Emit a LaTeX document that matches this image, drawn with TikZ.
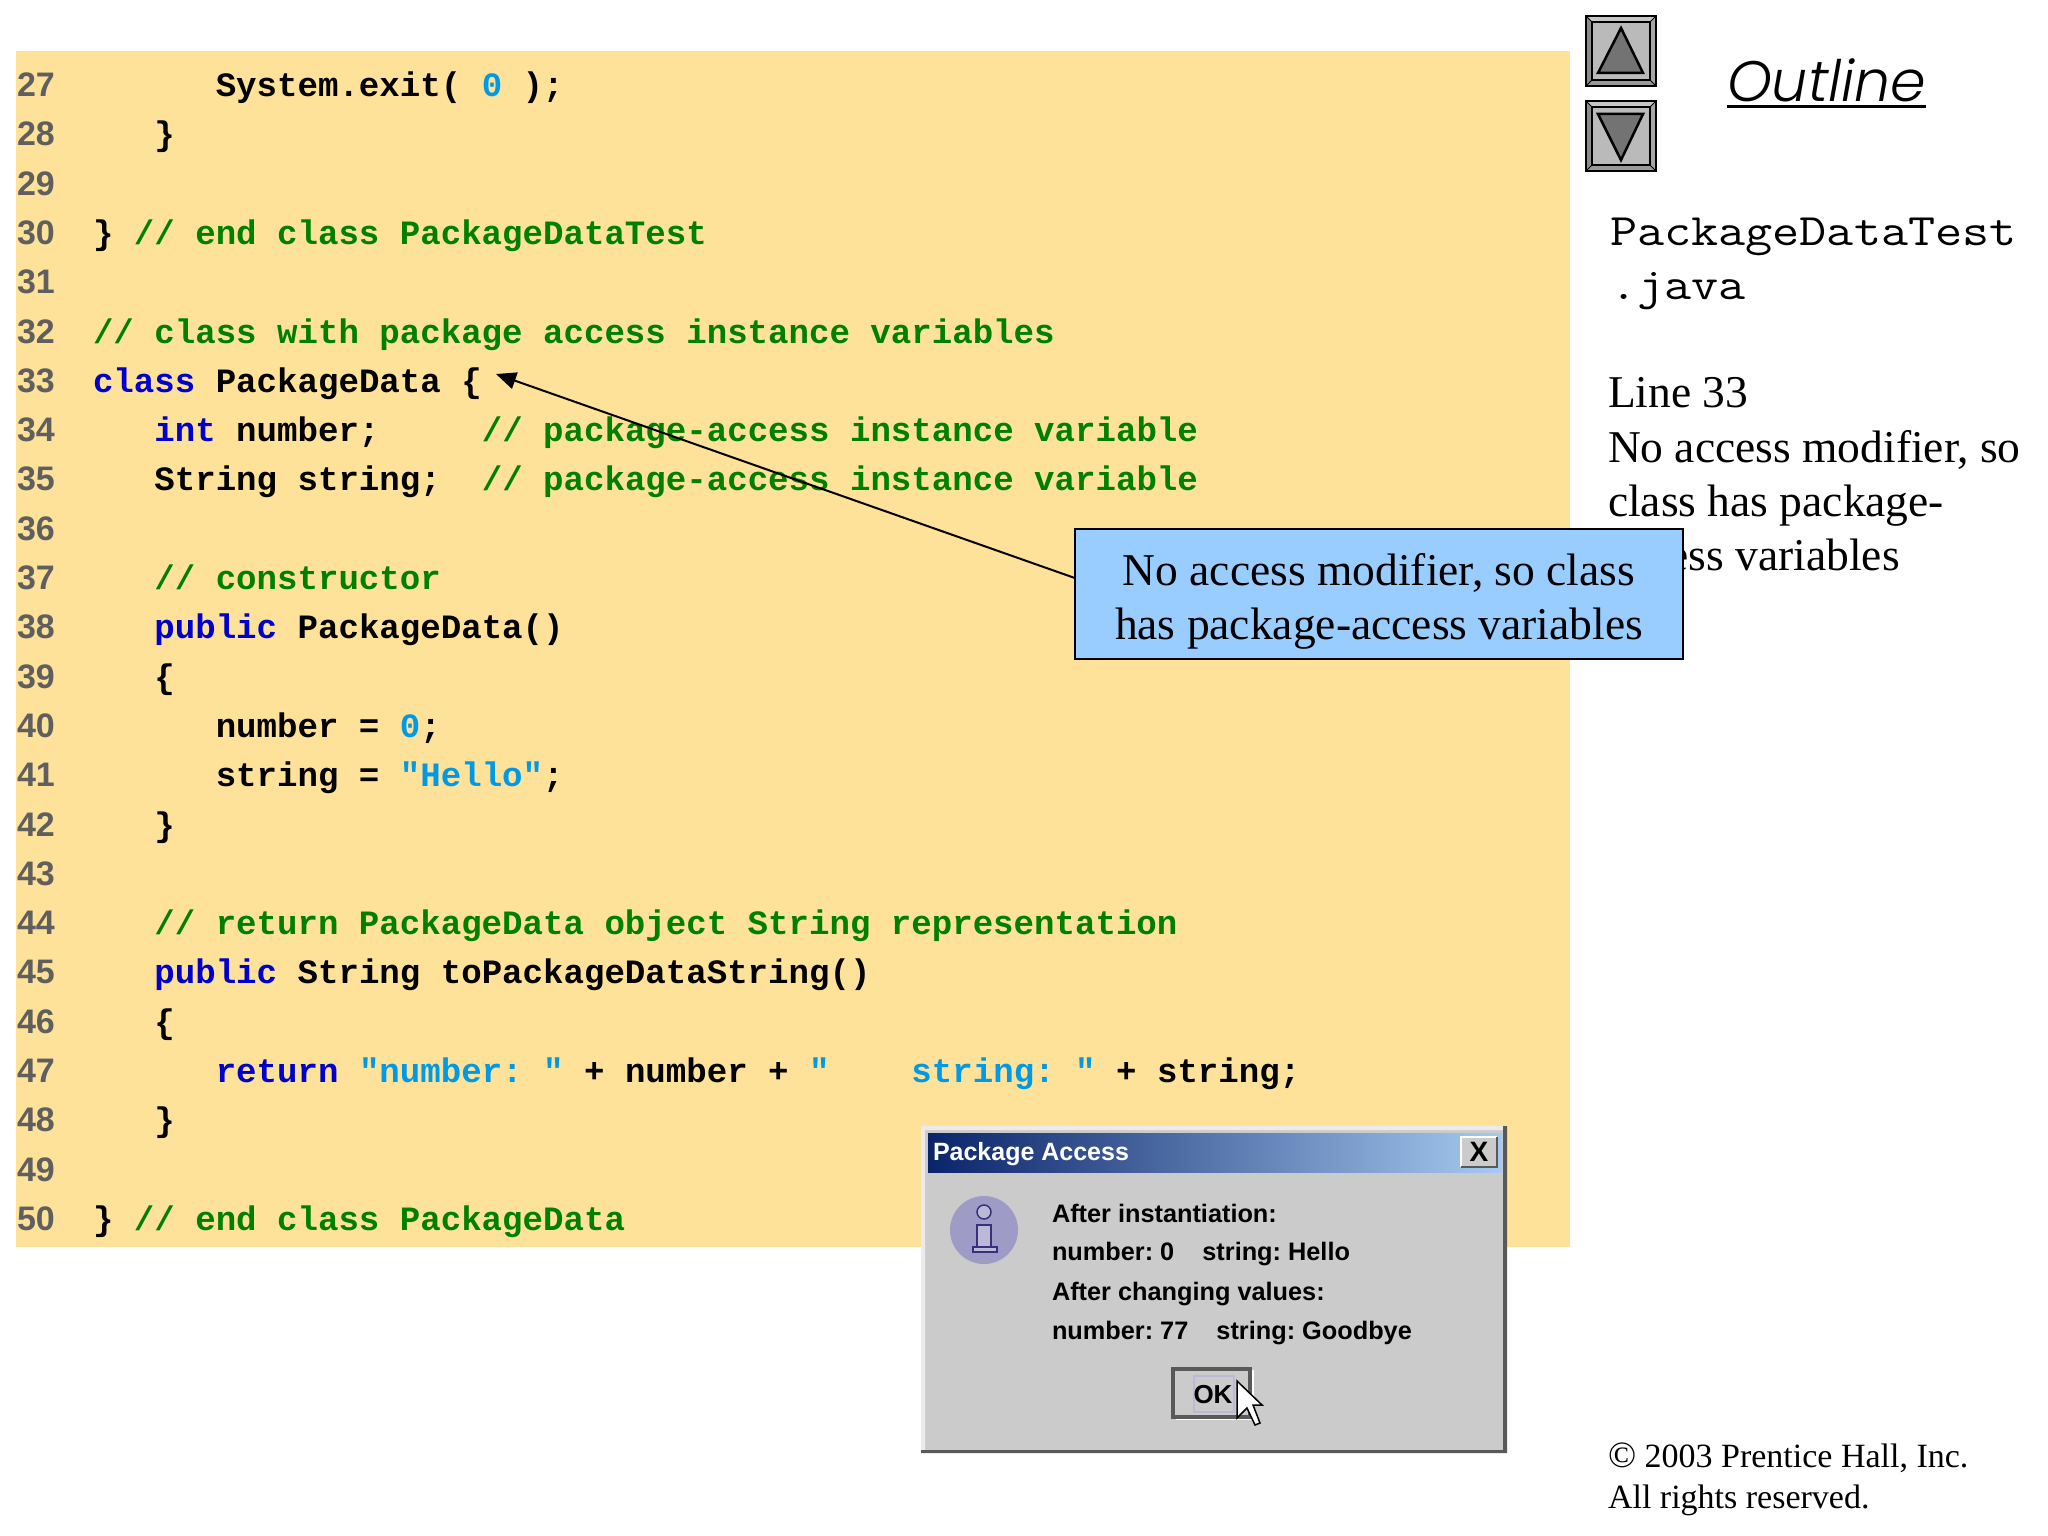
\documentclass[tikz,border=0pt]{standalone}
\usepackage{fontspec}
\usepackage{xcolor}
\usetikzlibrary{arrows.meta}
\setmainfont{Liberation Serif}
\newfontfamily\codefont{Liberation Mono}
\newfontfamily\filefont{Latin Modern Mono}[FakeStretch=1.17]
\newfontfamily\numfont{Liberation Sans}
\newfontfamily\outlinefont{Poppins}[UprightFont=* Light,ItalicFont=* Light Italic]
\definecolor{codeback}{HTML}{FFE299}
\definecolor{codeblue}{HTML}{0000CC}
\definecolor{codegreen}{HTML}{008000}
\definecolor{codelit}{HTML}{0099E6}
\definecolor{numgray}{HTML}{5F5F5F}
\definecolor{callblue}{HTML}{99CCFF}
\definecolor{dlggray}{HTML}{CBCBCB}
\definecolor{titledark}{HTML}{0A246A}
\definecolor{titlelight}{HTML}{A6CAF0}
\definecolor{iconfill}{HTML}{9E9BC6}
\definecolor{iconline}{HTML}{3A2F7A}
\newcommand{\kw}[1]{\textcolor{codeblue}{#1}}
\newcommand{\cmt}[1]{\textcolor{codegreen}{#1}}
\newcommand{\lit}[1]{\textcolor{codelit}{#1}}
\newcommand{\navbox}[2]{%
\fill[gray!60] (#1,#2) rectangle ++(70,70);
\fill[gray!45] (#1,#2) -- ++(70,0) -- ++(-6,6) -- ++(-58,0) -- cycle;
\fill[gray!90] (#1,#2) -- ++(0,70) -- ++(6,-6) -- ++(0,-58) -- cycle;
\fill[gray!80] (#1+70,#2+70) -- ++(-70,0) -- ++(6,-6) -- ++(58,0) -- cycle;
\fill[gray!70] (#1+70,#2+70) -- ++(0,-70) -- ++(-6,6) -- ++(0,58) -- cycle;
\fill[black!27] (#1+6,#2+6) rectangle ++(58,58);
\draw[line width=2.5pt] (#1,#2) rectangle ++(70,70);
\draw[line width=2.5pt] (#1+6,#2+6) rectangle ++(58,58);
\draw[line width=1pt] (#1,#2) -- ++(6,6) (#1+70,#2) -- ++(-6,6) (#1,#2+70) -- ++(6,-6) (#1+70,#2+70) -- ++(-6,-6);}

\begin{document}
\frenchspacing
\begin{tikzpicture}[x=1pt,y=-1pt]
\tikzstyle{every node}=[inner sep=0pt,outer sep=0pt];
\tikzstyle{lineno}=[anchor=base west,text=numgray,font={\numfont\bfseries\fontsize{34}{40}\selectfont}];
\tikzstyle{code}=[anchor=base west,font={\codefont\bfseries\fontsize{34.1}{40}\selectfont}];
\tikzstyle{filename}=[anchor=base west,font={\filefont\fontsize{45}{54}\selectfont}];
\tikzstyle{sidetext}=[anchor=base west,font={\fontsize{45.5}{55}\selectfont}];
\tikzstyle{smalltext}=[anchor=base west,font={\fontsize{34}{41}\selectfont}];
\tikzstyle{dlgtext}=[anchor=base west,font={\numfont\bfseries\fontsize{25.3}{30}\selectfont}];
\useasboundingbox (0,0) rectangle (2048,1536);
\fill[white] (0,0) rectangle (2048,1536);
\fill[codeback] (16,51) rectangle (1570,1247);
\foreach \n in {27,...,50}
  \path (17,{96.5+49.3*(\n-27)}) node[lineno] (num\n) {\n};
\foreach \n/\c/\txt in {
  27/6/{System.exit( \lit{0} );},
  28/3/{\}},
  30/0/{\} \cmt{// end class PackageDataTest}},
  32/0/{\cmt{// class with package access instance variables}},
  33/0/{\kw{class} PackageData \{},
  34/3/{\kw{int} number;~~~~~\cmt{// package-access instance variable}},
  35/3/{String string;~~\cmt{// package-access instance variable}},
  37/3/{\cmt{// constructor}},
  38/3/{\kw{public} PackageData()},
  39/3/{\{},
  40/6/{number = \lit{0};},
  41/6/{string = \lit{"Hello"};},
  42/3/{\}},
  44/3/{\cmt{// return PackageData object String representation}},
  45/3/{\kw{public} String toPackageDataString()},
  46/3/{\{},
  47/6/{\kw{return} \lit{"number: "} + number + \lit{"~~~~string: "} + string;},
  48/3/{\}},
  50/0/{\} \cmt{// end class PackageData}}}
  \path ({93+\c*20.46},{96.5+49.3*(\n-27)}) node[code] (code\n) {\txt};
\navbox{1586}{16}
\navbox{1586}{101}
\draw[line width=2.5pt,fill=black!55] (1621,28) -- (1643,73) -- (1598,73) -- cycle;
\draw[line width=2.5pt,fill=black!55] (1621,160) -- (1643,114) -- (1598,114) -- cycle;
\path (1727,102) node[anchor=base west,font={\outlinefont\itshape\fontsize{57}{60}\selectfont}] (outline) {Outline};
\draw[line width=3pt] ([yshift=-5pt]outline.base west) -- ([yshift=-5pt]outline.base east);
\path (1610,245) node[filename] (file1) {PackageDataTest};
\path (1610,299) node[filename] (file2) {.java};
\path (1608,407) node[sidetext] (side1) {Line 33};
\path (1608,462) node[sidetext] (side2) {No access modifier, so};
\path (1608,516) node[sidetext] (side3) {class has package-};
\path (1608,570) node[sidetext] (side4) {access variables};
\path (1608,1467) node[smalltext] (copy1) {{\fontsize{37}{41}\selectfont ©} 2003 Prentice Hall, Inc.};
\path (1608,1508) node[smalltext] (copy2) {All rights reserved.};
\path (1379,594) node[draw,line width=2pt,fill=callblue,minimum width=608pt,minimum height=130pt,align=center,font={\fontsize{45.5}{54}\selectfont}] (callout) {\rule{0pt}{47pt}No access modifier, so class\\has package-access variables};
\coordinate (brace) at (496,374);
\draw[line width=2pt,-{Triangle[length=20pt,width=17pt]}] (callout.177.4) -- (brace);
\fill[dlggray] (921,1126) rectangle (1507,1453);
\fill[black!8] (921,1126) rectangle (1507,1130) (921,1126) rectangle (925,1453);
\fill[black!65] (921,1450) rectangle (1507,1453) (1503,1126) rectangle (1507,1453);
\shade[left color=titledark,right color=titlelight] (928,1133) rectangle (1502,1172);
\path (933,1160) node[anchor=base west,text=white,font={\numfont\bfseries\fontsize{25}{30}\selectfont}] (title) {Package Access};
\fill[dlggray] (1461,1137) rectangle (1497,1167);
\draw[white,line width=2pt] (1461,1167) -- (1461,1137) -- (1497,1137);
\draw[black!65,line width=2pt] (1461,1167) -- (1497,1167) -- (1497,1137);
\path (1479,1152) node[font={\numfont\bfseries\fontsize{28}{30}\selectfont}] (close) {X};
\fill[iconfill] (984,1230) circle (34);
\draw[iconline,line width=1.5pt,fill=iconfill!70!white] (984,1212) circle (7);
\draw[iconline,line width=1.5pt,fill=iconfill!70!white] (977,1225) rectangle (991,1247) (973,1247) rectangle (997,1252);
\foreach \n/\y/\txt in {
  1/1222/{After instantiation:},
  2/1260/{number: 0~~~~string: Hello},
  3/1300/{After changing values:},
  4/1339/{number: 77~~~~string: Goodbye}}
  \path (1052,\y) node[dlgtext] (dlg\n) {\txt};
\draw[white,line width=2.5pt] (1176,1419) -- (1253,1419) -- (1253,1370);
\draw[black!65,line width=4pt] (1173,1417) -- (1173,1369) -- (1250,1369) -- (1250,1417) -- cycle;
\draw[iconfill!70!white,line width=1.5pt] (1194,1376) rectangle (1234,1412);
\path (1213,1403) node[anchor=base,font={\numfont\bfseries\fontsize{26}{30}\selectfont}] (ok) {OK};
\draw[line width=1.5pt,fill=white] (1237,1381) -- (1237,1418) -- (1247,1408) -- (1255,1425) -- (1260,1423) -- (1253,1405) -- (1262,1405) -- cycle;
\end{tikzpicture}
\end{document}
